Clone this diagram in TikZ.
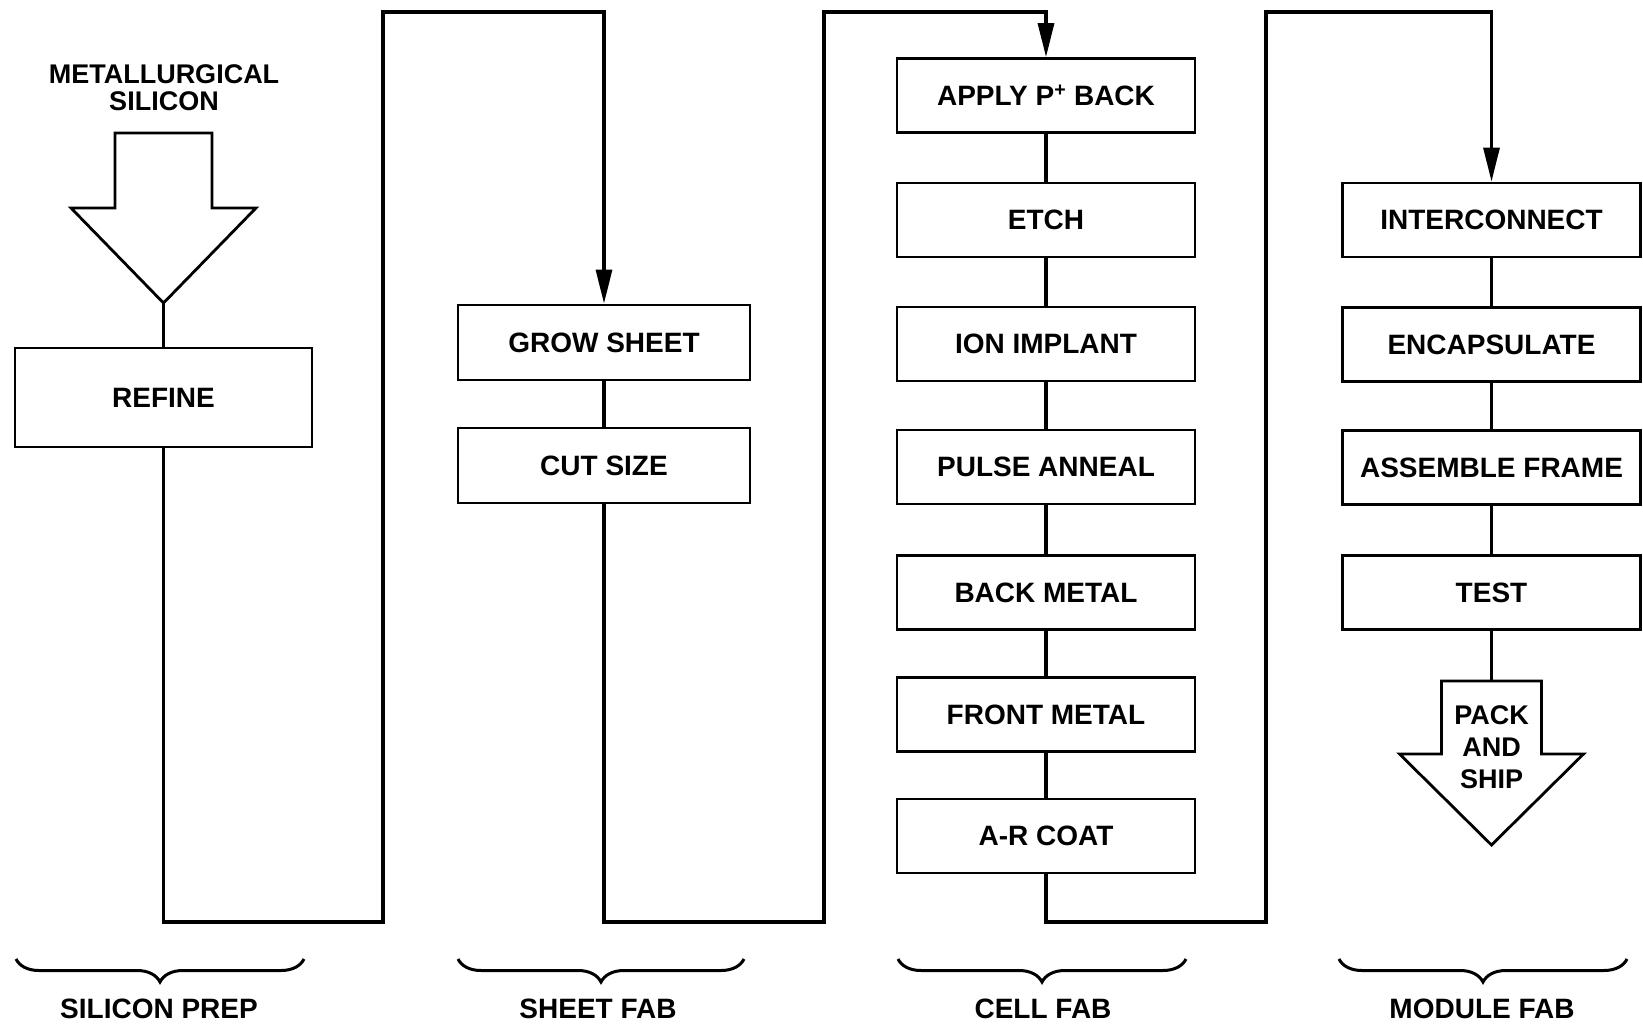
\documentclass[tikz,border=0pt]{standalone}
\usepackage{fontspec}
\setmainfont{Liberation Sans}
\usetikzlibrary{arrows.meta,decorations.pathreplacing}

\begin{document}
\begin{tikzpicture}[x=1pt, y=-1pt, >={Triangle[length=34pt,width=16pt]},
  procbox/.style={draw, line width=2.8pt, inner sep=0pt, minimum width=298pt, minimum height=74pt, font=\fontsize{28}{32}\selectfont\bfseries},
  flow/.style={line width=3.2pt},
  bigarrow/.style={draw, line width=2.8pt, line join=miter},
  stagelabel/.style={font=\fontsize{28}{32}\selectfont\bfseries},
  stagebrace/.style={decorate, decoration={brace, mirror, amplitude=23pt}, line width=3pt}]
\useasboundingbox (0,0) rectangle (1643,1027);

% silicon prep
\node[stagelabel, align=center, font=\fontsize{27}{27}\selectfont\bfseries] (metsi) at (164,88) {METALLURGICAL\\SILICON};
\draw[bigarrow] (115,133) -- (212,133) -- (212,208) -- (256,208) -- (163.5,303) -- (71,208) -- (115,208) -- cycle;
\coordinate (intip) at (163.5,303);
\node[procbox, minimum width=297pt, minimum height=99pt] (refine) at (163.5,397.5) {REFINE};

% sheet fab
\node[procbox, minimum width=292pt, minimum height=75pt] (grow) at (604,342.5) {GROW SHEET};
\node[procbox, minimum width=292pt, minimum height=75pt] (cut) at (604,465.5) {CUT SIZE};

% cell fab
\node[procbox] (apply) at (1046,95.5) {APPLY P\textsuperscript{+} BACK};
\node[procbox] (etch) at (1046,220) {ETCH};
\node[procbox] (ion) at (1046,344) {ION IMPLANT};
\node[procbox] (pulse) at (1046,467) {PULSE ANNEAL};
\node[procbox] (back) at (1046,592.5) {BACK METAL};
\node[procbox] (front) at (1046,714.5) {FRONT METAL};
\node[procbox] (arcoat) at (1046,836) {A-R COAT};

% module fab
\node[procbox] (inter) at (1491.5,220) {INTERCONNECT};
\node[procbox] (encap) at (1491.5,344.5) {ENCAPSULATE};
\node[procbox] (assem) at (1491.5,467.5) {ASSEMBLE FRAME};
\node[procbox] (test) at (1491.5,592.5) {TEST};
\draw[bigarrow] (1441.5,681) -- (1541.5,681) -- (1541.5,754) -- (1583.5,754) -- (1491.5,845) -- (1399.5,754) -- (1441.5,754) -- cycle;
\coordinate (packtop) at (1491.5,681);
\node[stagelabel, align=center, font=\fontsize{27}{32}\selectfont\bfseries] (pack) at (1491.5,747) {PACK\\AND\\SHIP};

% loop corners
\coordinate (s1bot) at (383,922);
\coordinate (s1top) at (383,12);
\coordinate (s2bot) at (824,922);
\coordinate (s2top) at (824,12);
\coordinate (s3bot) at (1266,922);
\coordinate (s3top) at (1266,12);

\draw[flow] (intip) -- (refine);
\draw[flow, ->] (refine.south) |- (s1bot) -- (s1top) -| (grow.north);
\draw[flow] (grow) -- (cut);
\draw[flow, ->] (cut.south) |- (s2bot) -- (s2top) -| (apply.north);
\draw[flow] (apply) -- (etch);
\draw[flow] (etch) -- (ion);
\draw[flow] (ion) -- (pulse);
\draw[flow] (pulse) -- (back);
\draw[flow] (back) -- (front);
\draw[flow] (front) -- (arcoat);
\draw[flow, ->] (arcoat.south) |- (s3bot) -- (s3top) -| (inter.north);
\draw[flow] (inter) -- (encap);
\draw[flow] (encap) -- (assem);
\draw[flow] (assem) -- (test);
\draw[flow] (test.south) -- (packtop);

% stages
\draw[stagebrace] (16,959) -- (304,959);
\draw[stagebrace] (458,959) -- (744,959);
\draw[stagebrace] (898,959) -- (1186,959);
\draw[stagebrace] (1339,959) -- (1627,959);
\node[stagelabel] (lsilicon) at (159,1009) {SILICON PREP};
\node[stagelabel] (lsheet) at (598,1009) {SHEET FAB};
\node[stagelabel] (lcell) at (1043,1009) {CELL FAB};
\node[stagelabel] (lmodule) at (1482,1009) {MODULE FAB};
\end{tikzpicture}
\end{document}
